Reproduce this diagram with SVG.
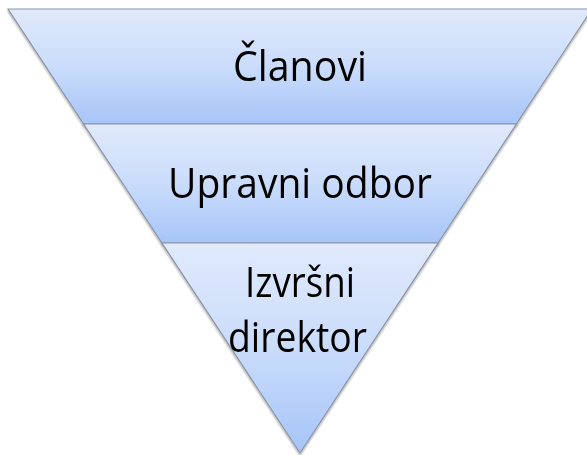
<svg xmlns="http://www.w3.org/2000/svg" width="587" height="455" viewBox="0 0 587 455">
<defs>
<linearGradient id="g" x1="0" y1="0" x2="0" y2="1">
<stop offset="0" stop-color="#e1eafc"/>
<stop offset="0.5" stop-color="#cadcfb"/>
<stop offset="1" stop-color="#a7c5f8"/>
</linearGradient>
<filter id="sh" x="-5%" y="-5%" width="110%" height="115%">
<feGaussianBlur in="SourceAlpha" stdDeviation="1.2"/>
<feOffset dx="0" dy="1.5" result="b"/>
<feComponentTransfer><feFuncA type="linear" slope="0.35"/></feComponentTransfer>
<feMerge><feMergeNode/><feMergeNode in="SourceGraphic"/></feMerge>
</filter>
</defs>
<style>
.band{fill:url(#g);stroke:#8a94a4;stroke-width:1.2;stroke-linejoin:miter}
.t{font-family:"Open Sans","Noto Sans","Liberation Sans",sans-serif;font-size:42px;fill:#000;text-anchor:middle}
</style>
<rect width="587" height="455" fill="#fff"/>
<g id="band-clanovi" filter="url(#sh)">
<polygon class="band" points="8,9 592,9 516.4,124 83.6,124"/>
<text class="t" x="300" y="81" textLength="134" lengthAdjust="spacingAndGlyphs">Članovi</text>
</g>
<g id="band-upravni-odbor" filter="url(#sh)">
<polygon class="band" points="83.6,124 516.4,124 438.1,243 161.9,243"/>
<text class="t" x="300" y="198" textLength="264" lengthAdjust="spacingAndGlyphs">Upravni odbor</text>
</g>
<g id="band-izvrsni-direktor" filter="url(#sh)">
<polygon class="band" points="161.9,243 438.1,243 300,453"/>
<text class="t" x="300" y="297" textLength="110" lengthAdjust="spacingAndGlyphs">Izvršni</text>
<text class="t" x="297.5" y="352" textLength="139" lengthAdjust="spacingAndGlyphs">direktor</text>
</g>
<g id="connectors"/>
</svg>
